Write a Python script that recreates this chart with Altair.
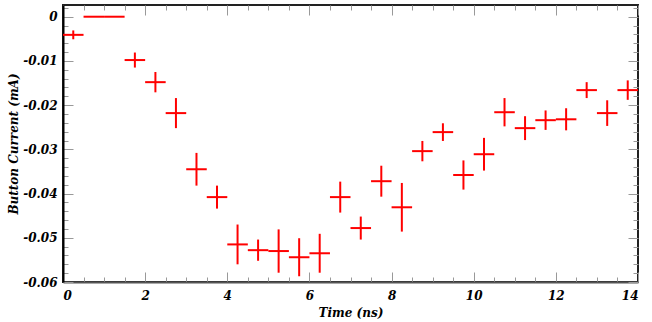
import altair as alt
import pandas as pd

# bin centres (ns), bin half-width 0.25 ns
time_ns = [0.25, 0.75, 1.25, 1.75, 2.25, 2.75, 3.25, 3.75, 4.25, 4.75,
           5.25, 5.75, 6.25, 6.75, 7.25, 7.75, 8.25, 8.75, 9.25, 9.75,
           10.25, 10.75, 11.25, 11.75, 12.25, 12.75, 13.25, 13.75]
current_mA = [-0.0041, 0.0, 0.0, -0.0098, -0.0148, -0.0218, -0.0345, -0.0408,
              -0.0515, -0.0528, -0.0530, -0.0544, -0.0535, -0.0408, -0.0478,
              -0.0372, -0.0431, -0.0304, -0.0261, -0.0358, -0.0311, -0.0216,
              -0.0252, -0.0234, -0.0232, -0.0166, -0.0218, -0.0166]
current_err = [0.0010, 0.0, 0.0, 0.0017, 0.0023, 0.0034, 0.0037, 0.0026,
               0.0045, 0.0024, 0.0049, 0.0043, 0.0044, 0.0035, 0.0026,
               0.0035, 0.0055, 0.0023, 0.0020, 0.0033, 0.0037, 0.0032,
               0.0027, 0.0022, 0.0025, 0.0018, 0.0029, 0.0022]
half_width = 0.25

x_label_values = [0, 2, 4, 6, 8, 10, 12, 14]
x_tick_values = [i * 0.5 for i in range(0, 29)]
y_label_values = [-0.06, -0.05, -0.04, -0.03, -0.02, -0.01, 0.0]
y_tick_values = [round(i * 0.002, 3) for i in range(-30, 2)]

df = pd.DataFrame({
    "t": time_ns,
    "tlo": [t - half_width for t in time_ns],
    "thi": [t + half_width for t in time_ns],
    "c": current_mA,
    "clo": [c - e for c, e in zip(current_mA, current_err)],
    "chi": [c + e for c, e in zip(current_mA, current_err)],
})

W, H = 575, 277
FONT = "DejaVu Serif"
RED = "#ff0000"
TICK = "#999999"

xs = alt.Scale(domain=[0, 14], nice=False, zero=False)
ys = alt.Scale(domain=[-0.06, 0.00265], nice=False, zero=False)

x_main_axis = alt.Axis(
    orient="bottom", values=x_label_values, ticks=False, tickSize=0, grid=False,
    domain=True, domainColor="#555555", domainWidth=2,
    labelFont=FONT, labelFontSize=12, labelFontWeight="bold", labelFontStyle="italic",
    labelColor="black", labelPadding=8,
    title="Time (ns)", titleFont=FONT, titleFontSize=12, titleFontWeight="bold",
    titleFontStyle="italic", titleColor="black",
    titleBaseline="alphabetic", titleY=34,
)
y_main_axis = alt.Axis(
    orient="left", values=y_label_values, ticks=False, tickSize=0, grid=False,
    domain=True, domainColor="black", domainWidth=2,
    labelExpr="datum.value == 0 ? '0' : '-' + format(abs(datum.value), '.2f')",
    labelFont=FONT, labelFontSize=12, labelFontWeight="bold", labelFontStyle="italic",
    labelColor="black", labelPadding=6,
    title="Button Current (mA)", titleFont=FONT, titleFontSize=12,
    titleFontWeight="bold", titleFontStyle="italic", titleColor="black",
    titleAngle=-90, titleBaseline="alphabetic", titleAlign="center",
    titleX=-46, titleY=H / 2,
)

x_major = {"condition": {"test": "datum.value % 2 == 0", "value": 10}, "value": 5}
y_major = {"condition": {"test": "abs(datum.value * 100 - round(datum.value * 100)) < 0.000001",
                         "value": 10}, "value": 5}


def tick_axis(orient, values, size):
    return alt.Axis(orient=orient, offset=-(W if orient in ("left", "right") else H),
                    values=values, labels=False, domain=False, grid=False,
                    ticks=True, tickSize=size, tickColor=TICK, tickWidth=1, title=None)


hbars = alt.Chart(df).mark_rule(color=RED, strokeWidth=2).encode(
    x=alt.X("tlo:Q", scale=xs, axis=x_main_axis),
    x2="thi:Q",
    y=alt.Y("c:Q", scale=ys, axis=y_main_axis),
)
vbars = alt.Chart(df).mark_rule(color=RED, strokeWidth=2).encode(
    x=alt.X("t:Q", scale=xs, axis=None),
    y=alt.Y("clo:Q", scale=ys, axis=None),
    y2="chi:Q",
)
# inward ticks on the left and bottom edges
ticks_lb = alt.Chart(df).mark_point(opacity=0).encode(
    x=alt.X("t:Q", scale=xs, axis=tick_axis("top", x_tick_values, x_major)),
    y=alt.Y("c:Q", scale=ys, axis=tick_axis("right", y_tick_values, y_major)),
)
# inward ticks on the right and top edges
ticks_rt = alt.Chart(df).mark_point(opacity=0).encode(
    x=alt.X("t:Q", scale=xs, axis=tick_axis("bottom", x_tick_values, x_major)),
    y=alt.Y("c:Q", scale=ys, axis=tick_axis("left", y_tick_values, y_major)),
)

chart = alt.layer(ticks_lb, ticks_rt, hbars, vbars).resolve_axis(
    x="independent", y="independent"
).properties(
    width=W, height=H, autosize="none",
    padding={"left": 63, "top": 5, "right": 14, "bottom": 40},
    background="white",
).configure_view(stroke="#222222", strokeWidth=2)

chart.save("out.html", embed_options={"renderer": "svg", "actions": False})
